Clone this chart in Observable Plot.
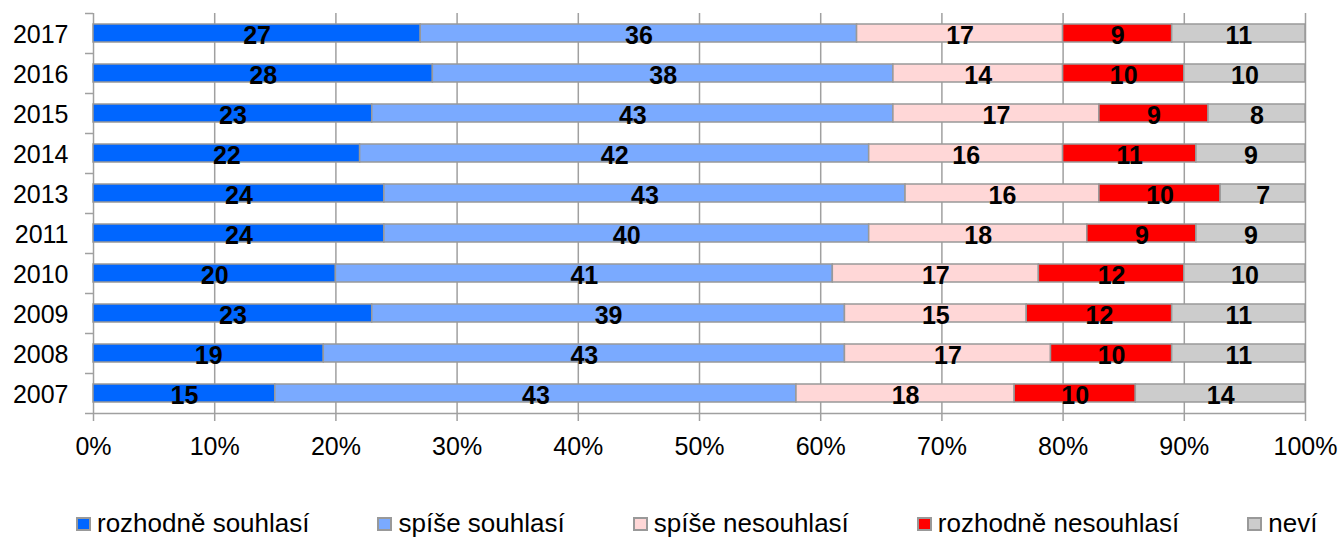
<!DOCTYPE html>
<html><head><meta charset="utf-8">
<script src="https://cdn.jsdelivr.net/npm/d3@7"></script>
<script src="https://cdn.jsdelivr.net/npm/@observablehq/plot@0.6"></script>
<style>
body{margin:0;background:#fff;font-family:"Liberation Sans",Arial,sans-serif;}
#chart{position:relative;width:1341px;height:539px;}
#legend{position:absolute;left:76px;top:508px;display:flex;gap:68px;font-size:26px;line-height:30px;color:#000;white-space:nowrap;}
.item{display:flex;align-items:center;}
.sw{width:11px;height:10px;border:2px solid #999;margin-right:6px;margin-top:2px;}
</style></head><body><div id="chart"><div id="legend"></div></div>
<script>
const years = ["2017","2016","2015","2014","2013","2011","2010","2009","2008","2007"];
const categories = ["rozhodně souhlasí","spíše souhlasí","spíše nesouhlasí","rozhodně nesouhlasí","neví"];
const colors = ["#0066ff","#7aaaff","#ffd7d7","#ff0000","#cccccc"];
const rozhodneSouhlasi   = [27,28,23,22,24,24,20,23,19,15];
const spiseSouhlasi      = [36,38,43,42,43,40,41,39,43,43];
const spiseNesouhlasi    = [17,14,17,16,16,18,17,15,17,18];
const rozhodneNesouhlasi = [9,10,9,11,10,9,12,12,10,10];
const nevi               = [11,10,8,9,7,9,10,11,11,14];
const xTicks = [0,10,20,30,40,50,60,70,80,90,100];

const series = [rozhodneSouhlasi, spiseSouhlasi, spiseNesouhlasi, rozhodneNesouhlasi, nevi];
const data = [];
categories.forEach((c, ci) => years.forEach((y, yi) => data.push({year: y, category: c, value: series[ci][yi]})));

const grid = "#a0a0a0";
const chart = Plot.plot({
  width: 1341,
  height: 475,
  marginLeft: 93,
  marginRight: 36,
  marginTop: 13,
  marginBottom: 62,
  style: {fontFamily: '"Liberation Sans", Arial, sans-serif', fontSize: "25px", color: "#000", background: "#fff"},
  x: {domain: [0, 100], label: null},
  y: {domain: years, paddingInner: 0.55, paddingOuter: 0.275, label: null},
  color: {domain: categories, range: colors},
  marks: [
    Plot.gridX(xTicks, {stroke: grid, strokeOpacity: 1, strokeWidth: 1.5}),
    Plot.barX(data, Plot.stackX({x: "value", y: "year", fill: "category", z: "category", order: categories, stroke: "#999", strokeWidth: 1.5})),
    Plot.text(data, Plot.stackX({x: "value", y: "year", z: "category", order: categories, text: d => d.value, fontWeight: "bold", fontSize: 25, fill: "#000", dy: 2})),
    Plot.axisY({tickSize: 0, tickPadding: 25, fontSize: 25, dy: 1}),
    Plot.axisY({tickSize: 8, tickFormat: () => "", dy: -20, stroke: grid, strokeWidth: 1.5}),
    Plot.axisY({ticks: [years[years.length - 1]], tickSize: 8, tickFormat: () => "", dy: 20, stroke: grid, strokeWidth: 1.5}),
    Plot.ruleY([years[years.length - 1]], {dy: 20, stroke: grid, strokeWidth: 1.5}),
    Plot.axisX({ticks: xTicks, tickSize: 8, tickPadding: 16, fontSize: 25, tickFormat: d => d + "%", stroke: grid, strokeWidth: 1.5})
  ]
});
document.getElementById("chart").prepend(chart);

const legend = document.getElementById("legend");
categories.forEach((c, i) => {
  const item = document.createElement("div");
  item.className = "item";
  const sw = document.createElement("span");
  sw.className = "sw";
  sw.style.background = colors[i];
  const t = document.createElement("span");
  t.textContent = c;
  item.append(sw, t);
  legend.append(item);
});
</script>
</body></html>
